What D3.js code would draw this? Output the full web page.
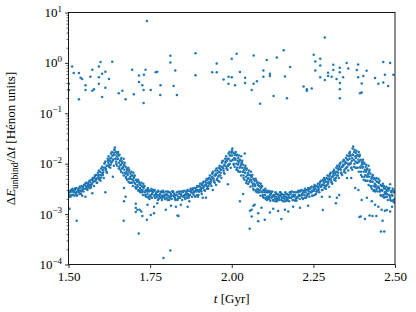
<!DOCTYPE html>
<html>
<head>
<meta charset="utf-8">
<script src="https://cdn.jsdelivr.net/npm/d3@7"></script>
<style>
  body { margin: 0; background: #fff; }
  svg { display: block; }
  text { font-family: "Liberation Serif", "DejaVu Serif", serif; fill: #000; }
</style>
</head>
<body>
<script>
// ---- data: t [Gyr], dE/dt [Henon units] ----
var xTicks = [1.50, 1.75, 2.00, 2.25, 2.50];
var yDecades = [-4, -3, -2, -1, 0, 1];

// the dense oscillating band
var bandPoints = [
[1.500,2.9e-3],[1.502,2.4e-3],[1.504,2.7e-3],[1.506,2.2e-3],[1.508,3.0e-3],
[1.510,2.8e-3],[1.512,3.2e-3],[1.514,2.4e-3],[1.516,2.9e-3],[1.518,2.3e-3],
[1.520,3.0e-3],[1.522,2.5e-3],[1.524,3.3e-3],[1.526,2.3e-3],[1.528,2.8e-3],
[1.530,3.2e-3],[1.532,2.7e-3],[1.534,3.5e-3],[1.536,2.9e-3],[1.538,2.5e-3],
[1.540,3.6e-3],[1.542,3.0e-3],[1.544,3.3e-3],[1.546,2.8e-3],[1.548,3.8e-3],
[1.550,3.8e-3],[1.552,3.2e-3],[1.554,4.2e-3],[1.556,3.5e-3],[1.558,3.0e-3],
[1.560,4.2e-3],[1.562,3.5e-3],[1.564,4.6e-3],[1.566,3.8e-3],[1.568,3.3e-3],
[1.570,4.8e-3],[1.572,4.0e-3],[1.574,5.2e-3],[1.576,4.4e-3],[1.578,3.6e-3],
[1.580,5.5e-3],[1.582,4.6e-3],[1.584,6.0e-3],[1.586,5.0e-3],[1.588,4.2e-3],
[1.590,6.6e-3],[1.592,5.5e-3],[1.593,7.3e-3],[1.595,5.0e-3],[1.597,6.0e-3],[1.598,4.6e-3],
[1.600,8.0e-3],[1.602,6.6e-3],[1.603,8.7e-3],[1.605,6.0e-3],[1.607,7.3e-3],[1.608,5.2e-3],
[1.610,1.0e-2],[1.612,8.3e-3],[1.613,1.1e-2],[1.615,7.6e-3],[1.617,9.1e-3],[1.618,6.6e-3],
[1.620,1.25e-2],[1.622,1.05e-2],[1.623,1.4e-2],[1.625,9.5e-3],[1.627,1.15e-2],[1.628,8.3e-3],
[1.630,1.6e-2],[1.631,1.3e-2],[1.633,1.7e-2],[1.634,1.1e-2],[1.636,1.45e-2],[1.637,1.2e-2],[1.639,9.1e-3],
[1.640,1.9e-2],[1.641,1.5e-2],[1.642,2.1e-2],[1.644,1.25e-2],[1.645,1.7e-2],[1.646,1.1e-2],[1.648,1.4e-2],[1.649,9.1e-3],
[1.650,1.6e-2],[1.651,1.25e-2],[1.652,1.7e-2],[1.654,1.05e-2],[1.655,1.45e-2],[1.656,8.7e-3],[1.658,1.15e-2],[1.659,7.6e-3],
[1.660,1.2e-2],[1.661,9.5e-3],[1.662,1.3e-2],[1.664,8.0e-3],[1.665,1.1e-2],[1.666,6.6e-3],[1.668,8.7e-3],[1.669,5.8e-3],
[1.670,9.5e-3],[1.671,7.6e-3],[1.672,1.05e-2],[1.674,6.3e-3],[1.675,8.7e-3],[1.676,5.5e-3],[1.678,6.9e-3],[1.679,4.8e-3],
[1.680,7.6e-3],[1.681,6.0e-3],[1.683,8.3e-3],[1.684,5.0e-3],[1.686,6.9e-3],[1.687,4.2e-3],[1.689,5.5e-3],
[1.690,6.3e-3],[1.691,5.0e-3],[1.693,6.9e-3],[1.694,4.2e-3],[1.696,5.8e-3],[1.697,3.6e-3],[1.699,4.6e-3],
[1.700,5.2e-3],[1.702,4.2e-3],[1.703,5.8e-3],[1.705,3.5e-3],[1.707,4.8e-3],[1.708,3.2e-3],
[1.710,4.4e-3],[1.712,3.5e-3],[1.713,4.8e-3],[1.715,3.0e-3],[1.717,4.0e-3],[1.718,2.8e-3],
[1.720,3.8e-3],[1.722,3.0e-3],[1.723,4.2e-3],[1.725,2.7e-3],[1.727,3.5e-3],[1.728,2.4e-3],
[1.730,3.3e-3],[1.732,2.8e-3],[1.733,3.6e-3],[1.735,2.4e-3],[1.737,3.0e-3],[1.738,2.2e-3],
[1.740,3.0e-3],[1.742,2.5e-3],[1.743,3.3e-3],[1.745,2.2e-3],[1.747,2.8e-3],[1.748,2.0e-3],
[1.750,2.9e-3],[1.752,2.4e-3],[1.754,3.2e-3],[1.756,2.1e-3],[1.758,2.7e-3],
[1.760,2.8e-3],[1.762,2.3e-3],[1.764,3.0e-3],[1.766,2.1e-3],[1.768,2.5e-3],
[1.770,2.7e-3],[1.772,2.2e-3],[1.774,2.9e-3],[1.776,2.0e-3],[1.778,2.4e-3],
[1.780,2.5e-3],[1.782,2.1e-3],[1.784,2.8e-3],[1.786,1.9e-3],[1.788,2.3e-3],
[1.790,2.7e-3],[1.792,2.2e-3],[1.794,2.4e-3],[1.796,2.0e-3],[1.798,2.8e-3],
[1.800,2.5e-3],[1.802,2.1e-3],[1.804,2.8e-3],[1.806,2.3e-3],[1.808,1.9e-3],
[1.810,2.7e-3],[1.812,2.2e-3],[1.814,2.4e-3],[1.816,2.0e-3],[1.818,2.8e-3],
[1.820,2.8e-3],[1.822,2.3e-3],[1.824,2.5e-3],[1.826,2.1e-3],[1.828,1.9e-3],
[1.830,2.4e-3],[1.832,2.7e-3],[1.834,2.0e-3],[1.836,2.2e-3],[1.838,2.8e-3],
[1.840,2.5e-3],[1.842,2.1e-3],[1.844,2.8e-3],[1.846,2.3e-3],[1.848,1.9e-3],
[1.850,2.7e-3],[1.852,2.2e-3],[1.854,2.9e-3],[1.856,2.4e-3],[1.858,2.0e-3],
[1.860,2.8e-3],[1.862,2.3e-3],[1.864,3.0e-3],[1.866,2.5e-3],[1.868,2.1e-3],
[1.870,2.9e-3],[1.872,2.4e-3],[1.874,3.2e-3],[1.876,2.7e-3],[1.878,2.2e-3],
[1.880,3.0e-3],[1.882,2.5e-3],[1.884,3.3e-3],[1.886,2.8e-3],[1.888,2.2e-3],
[1.890,3.3e-3],[1.892,2.8e-3],[1.894,3.6e-3],[1.896,3.0e-3],[1.898,2.4e-3],
[1.900,3.6e-3],[1.902,3.0e-3],[1.903,4.0e-3],[1.905,3.3e-3],[1.907,2.8e-3],[1.908,2.5e-3],
[1.910,4.0e-3],[1.912,3.3e-3],[1.914,4.4e-3],[1.916,3.6e-3],[1.918,2.9e-3],
[1.920,4.6e-3],[1.922,3.8e-3],[1.923,5.0e-3],[1.925,3.5e-3],[1.927,4.2e-3],[1.928,3.2e-3],
[1.930,5.2e-3],[1.932,4.4e-3],[1.933,5.8e-3],[1.935,4.0e-3],[1.937,4.8e-3],[1.938,3.6e-3],
[1.940,6.3e-3],[1.942,5.2e-3],[1.943,6.9e-3],[1.945,4.6e-3],[1.947,5.8e-3],[1.948,4.2e-3],
[1.950,7.3e-3],[1.952,6.0e-3],[1.953,8.0e-3],[1.955,5.0e-3],[1.957,6.6e-3],[1.958,4.6e-3],
[1.960,8.3e-3],[1.962,6.9e-3],[1.963,9.1e-3],[1.965,5.8e-3],[1.967,7.6e-3],[1.968,5.2e-3],
[1.970,1.05e-2],[1.972,8.7e-3],[1.973,1.15e-2],[1.975,7.3e-3],[1.977,9.5e-3],[1.978,6.3e-3],
[1.980,1.25e-2],[1.981,1.05e-2],[1.983,1.4e-2],[1.984,8.7e-3],[1.986,1.15e-2],[1.987,7.6e-3],[1.989,9.5e-3],
[1.990,1.6e-2],[1.991,1.25e-2],[1.993,1.7e-2],[1.994,1.0e-2],[1.996,1.45e-2],[1.997,8.3e-3],[1.999,1.15e-2],
[2.000,1.8e-2],[2.001,1.45e-2],[2.002,2.0e-2],[2.004,1.2e-2],[2.005,1.65e-2],[2.006,1.0e-2],[2.008,1.3e-2],[2.009,8.7e-3],
[2.010,1.6e-2],[2.011,1.25e-2],[2.012,1.7e-2],[2.014,1.0e-2],[2.015,1.45e-2],[2.016,8.3e-3],[2.018,1.15e-2],[2.019,7.3e-3],
[2.020,1.3e-2],[2.021,1.05e-2],[2.022,1.45e-2],[2.024,8.3e-3],[2.025,1.2e-2],[2.026,6.9e-3],[2.028,9.5e-3],[2.029,5.8e-3],
[2.030,1.05e-2],[2.031,8.3e-3],[2.032,1.15e-2],[2.034,6.9e-3],[2.035,9.5e-3],[2.036,5.8e-3],[2.038,7.6e-3],[2.039,4.8e-3],
[2.040,8.3e-3],[2.041,6.6e-3],[2.042,9.1e-3],[2.044,5.5e-3],[2.045,7.6e-3],[2.046,4.6e-3],[2.048,6.0e-3],[2.049,4.0e-3],
[2.050,6.6e-3],[2.051,5.2e-3],[2.053,7.3e-3],[2.054,4.4e-3],[2.056,6.0e-3],[2.057,3.5e-3],[2.059,4.8e-3],
[2.060,5.5e-3],[2.061,4.4e-3],[2.063,6.0e-3],[2.064,3.6e-3],[2.066,5.0e-3],[2.067,3.0e-3],[2.069,4.0e-3],
[2.070,4.6e-3],[2.072,3.6e-3],[2.073,5.0e-3],[2.075,3.0e-3],[2.077,4.2e-3],[2.078,2.7e-3],
[2.080,3.8e-3],[2.082,3.0e-3],[2.083,4.2e-3],[2.085,2.7e-3],[2.087,3.5e-3],[2.088,2.3e-3],
[2.090,3.3e-3],[2.092,2.8e-3],[2.093,3.6e-3],[2.095,2.4e-3],[2.097,3.0e-3],[2.098,2.1e-3],
[2.100,2.9e-3],[2.102,2.4e-3],[2.103,3.2e-3],[2.105,2.1e-3],[2.107,2.7e-3],[2.108,1.9e-3],
[2.110,2.7e-3],[2.112,2.2e-3],[2.113,2.9e-3],[2.115,2.0e-3],[2.117,2.4e-3],[2.118,1.85e-3],
[2.120,2.5e-3],[2.122,2.1e-3],[2.124,2.8e-3],[2.126,2.3e-3],[2.128,1.85e-3],
[2.130,2.4e-3],[2.132,2.0e-3],[2.134,2.7e-3],[2.136,2.2e-3],[2.138,1.8e-3],
[2.140,2.5e-3],[2.142,2.1e-3],[2.144,2.3e-3],[2.146,1.9e-3],[2.148,2.7e-3],
[2.150,2.3e-3],[2.152,1.9e-3],[2.154,2.5e-3],[2.156,2.1e-3],[2.158,1.8e-3],
[2.160,2.4e-3],[2.162,2.0e-3],[2.164,2.7e-3],[2.166,2.2e-3],[2.168,1.85e-3],
[2.170,2.5e-3],[2.172,2.1e-3],[2.174,2.3e-3],[2.176,1.8e-3],[2.178,2.7e-3],
[2.180,2.5e-3],[2.182,2.1e-3],[2.184,2.8e-3],[2.186,2.3e-3],[2.188,1.9e-3],
[2.190,2.7e-3],[2.192,2.2e-3],[2.194,2.4e-3],[2.196,2.0e-3],[2.198,1.85e-3],
[2.200,2.7e-3],[2.202,2.2e-3],[2.204,2.9e-3],[2.206,2.4e-3],[2.208,2.0e-3],
[2.210,2.8e-3],[2.212,2.3e-3],[2.214,3.0e-3],[2.216,2.5e-3],[2.218,2.0e-3],
[2.220,2.9e-3],[2.222,2.4e-3],[2.224,3.2e-3],[2.226,2.7e-3],[2.228,2.1e-3],
[2.230,3.0e-3],[2.232,2.5e-3],[2.234,3.3e-3],[2.236,2.8e-3],[2.238,2.2e-3],
[2.240,3.2e-3],[2.242,2.7e-3],[2.244,3.5e-3],[2.246,2.9e-3],[2.248,2.3e-3],
[2.250,3.5e-3],[2.252,2.9e-3],[2.254,3.8e-3],[2.256,3.2e-3],[2.258,2.5e-3],
[2.260,3.6e-3],[2.262,3.0e-3],[2.264,4.0e-3],[2.266,3.3e-3],[2.268,2.7e-3],
[2.270,4.2e-3],[2.272,3.5e-3],[2.274,4.6e-3],[2.276,3.8e-3],[2.278,3.0e-3],
[2.280,4.8e-3],[2.282,4.0e-3],[2.283,5.2e-3],[2.285,3.6e-3],[2.287,4.4e-3],[2.288,3.2e-3],
[2.290,5.2e-3],[2.292,4.4e-3],[2.293,5.8e-3],[2.295,4.0e-3],[2.297,4.8e-3],[2.298,3.5e-3],
[2.300,6.0e-3],[2.302,5.0e-3],[2.303,6.6e-3],[2.305,4.4e-3],[2.307,5.5e-3],[2.308,4.0e-3],
[2.310,6.9e-3],[2.312,5.8e-3],[2.313,7.6e-3],[2.315,5.0e-3],[2.317,6.3e-3],[2.318,4.6e-3],
[2.320,8.3e-3],[2.322,6.9e-3],[2.323,9.1e-3],[2.325,5.8e-3],[2.327,7.6e-3],[2.328,5.2e-3],
[2.330,9.5e-3],[2.332,8.0e-3],[2.333,1.05e-2],[2.335,6.6e-3],[2.337,8.7e-3],[2.338,6.0e-3],
[2.340,1.1e-2],[2.342,9.1e-3],[2.343,1.2e-2],[2.345,7.6e-3],[2.347,1.0e-2],[2.348,6.6e-3],
[2.350,1.3e-2],[2.351,1.05e-2],[2.353,1.45e-2],[2.354,8.7e-3],[2.356,1.2e-2],[2.357,7.3e-3],[2.359,9.5e-3],
[2.360,1.6e-2],[2.361,1.25e-2],[2.362,1.7e-2],[2.364,1.0e-2],[2.365,1.45e-2],[2.366,8.3e-3],[2.368,1.15e-2],[2.369,7.6e-3],
[2.370,2.0e-2],[2.371,1.5e-2],[2.372,2.2e-2],[2.374,1.2e-2],[2.375,1.7e-2],[2.376,1.0e-2],[2.378,1.4e-2],[2.379,8.3e-3],
[2.380,1.65e-2],[2.381,1.3e-2],[2.382,1.8e-2],[2.384,1.05e-2],[2.385,1.5e-2],[2.386,8.3e-3],[2.388,1.2e-2],[2.389,6.9e-3],
[2.390,1.4e-2],[2.391,1.1e-2],[2.392,1.5e-2],[2.394,8.7e-3],[2.395,1.2e-2],[2.396,6.9e-3],[2.398,9.5e-3],[2.399,5.5e-3],
[2.400,1.1e-2],[2.401,8.7e-3],[2.402,1.2e-2],[2.404,6.9e-3],[2.405,1.0e-2],[2.406,5.5e-3],[2.408,7.6e-3],[2.409,4.6e-3],
[2.410,8.7e-3],[2.411,6.9e-3],[2.412,9.5e-3],[2.414,5.5e-3],[2.415,8.0e-3],[2.416,4.6e-3],[2.418,6.3e-3],[2.419,3.8e-3],
[2.420,6.9e-3],[2.421,5.5e-3],[2.422,7.6e-3],[2.424,4.4e-3],[2.425,6.3e-3],[2.426,3.6e-3],[2.428,5.0e-3],[2.429,3.2e-3],
[2.430,5.5e-3],[2.431,4.4e-3],[2.432,6.0e-3],[2.434,3.6e-3],[2.435,5.0e-3],[2.436,3.0e-3],[2.438,4.0e-3],[2.439,2.8e-3],
[2.440,4.8e-3],[2.441,3.8e-3],[2.443,5.2e-3],[2.444,3.2e-3],[2.446,4.4e-3],[2.447,2.8e-3],[2.449,3.5e-3],
[2.450,4.2e-3],[2.451,3.3e-3],[2.453,4.6e-3],[2.454,2.8e-3],[2.456,3.8e-3],[2.457,2.3e-3],[2.459,3.0e-3],
[2.460,3.6e-3],[2.461,2.9e-3],[2.463,4.0e-3],[2.464,2.4e-3],[2.466,3.3e-3],[2.467,2.1e-3],[2.469,2.7e-3],
[2.470,3.2e-3],[2.472,2.7e-3],[2.473,3.5e-3],[2.475,2.2e-3],[2.477,2.9e-3],[2.478,1.9e-3],
[2.480,3.0e-3],[2.482,2.4e-3],[2.483,3.3e-3],[2.485,2.1e-3],[2.487,2.8e-3],[2.488,1.85e-3],
[2.490,2.9e-3],[2.492,2.3e-3],[2.493,3.2e-3],[2.495,1.9e-3],[2.497,2.7e-3],[2.498,1.7e-3]
];

// more band points, read in between the ones above
var bandFill = [
[1.501,2.7e-3],[1.504,2.2e-3],[1.506,2.9e-3],[1.509,2.4e-3],
[1.511,2.4e-3],[1.514,2.9e-3],[1.516,2.7e-3],[1.519,3.2e-3],
[1.521,3.2e-3],[1.524,2.7e-3],[1.526,2.4e-3],[1.529,2.9e-3],
[1.531,3.0e-3],[1.534,2.5e-3],[1.536,3.3e-3],[1.539,2.8e-3],
[1.541,2.9e-3],[1.544,3.5e-3],[1.546,3.2e-3],[1.549,3.8e-3],
[1.551,4.0e-3],[1.554,3.5e-3],[1.556,3.2e-3],[1.559,3.8e-3],
[1.561,4.0e-3],[1.564,3.3e-3],[1.566,4.4e-3],[1.569,3.6e-3],
[1.571,4.0e-3],[1.574,4.8e-3],[1.576,4.4e-3],[1.579,5.2e-3],
[1.581,5.8e-3],[1.584,4.8e-3],[1.586,4.2e-3],[1.589,5.2e-3],
[1.591,6.0e-3],[1.594,4.8e-3],[1.596,6.9e-3],[1.599,5.2e-3],
[1.601,5.8e-3],[1.604,7.6e-3],[1.606,6.6e-3],[1.609,8.3e-3],
[1.611,1.05e-2],[1.614,8.0e-3],[1.616,6.9e-3],[1.619,9.1e-3],
[1.621,1.15e-2],[1.624,8.7e-3],[1.626,1.25e-2],[1.629,9.5e-3],
[1.631,1.05e-2],[1.634,1.45e-2],[1.636,1.2e-2],[1.639,1.65e-2],
[1.641,1.9e-2],[1.644,1.25e-2],[1.646,1.0e-2],[1.649,1.6e-2],
[1.651,1.25e-2],[1.654,8.0e-3],[1.656,1.5e-2],[1.659,9.5e-3],
[1.661,6.9e-3],[1.664,1.05e-2],[1.666,8.3e-3],[1.669,1.25e-2],
[1.671,9.5e-3],[1.674,6.6e-3],[1.676,5.2e-3],[1.679,8.0e-3],
[1.681,6.3e-3],[1.684,4.4e-3],[1.686,7.6e-3],[1.689,5.0e-3],
[1.691,4.2e-3],[1.694,5.8e-3],[1.696,4.8e-3],[1.699,6.6e-3],
[1.701,5.5e-3],[1.704,4.0e-3],[1.706,3.3e-3],[1.709,4.6e-3],
[1.711,3.8e-3],[1.714,2.9e-3],[1.716,4.4e-3],[1.719,3.3e-3],
[1.721,2.7e-3],[1.724,3.6e-3],[1.726,3.0e-3],[1.729,4.0e-3],
[1.731,3.5e-3],[1.734,2.7e-3],[1.736,2.3e-3],[1.739,3.0e-3],
[1.741,2.8e-3],[1.744,2.1e-3],[1.746,3.0e-3],[1.749,2.3e-3],
[1.751,2.2e-3],[1.754,2.9e-3],[1.756,2.5e-3],[1.759,3.0e-3],
[1.761,2.9e-3],[1.764,2.4e-3],[1.766,2.1e-3],[1.769,2.7e-3],
[1.771,2.4e-3],[1.774,1.9e-3],[1.776,2.8e-3],[1.779,2.2e-3],
[1.781,2.1e-3],[1.784,2.7e-3],[1.786,2.3e-3],[1.789,2.9e-3],
[1.791,2.7e-3],[1.794,2.2e-3],[1.796,2.0e-3],[1.799,2.4e-3],
[1.801,2.4e-3],[1.804,1.9e-3],[1.806,2.7e-3],[1.809,2.1e-3],
[1.811,2.1e-3],[1.814,2.5e-3],[1.816,2.3e-3],[1.819,2.8e-3],
[1.821,2.7e-3],[1.824,2.2e-3],[1.826,2.0e-3],[1.829,2.4e-3],
[1.831,2.4e-3],[1.834,1.9e-3],[1.836,2.7e-3],[1.839,2.1e-3],
[1.841,2.1e-3],[1.844,2.5e-3],[1.846,2.3e-3],[1.849,2.8e-3],
[1.851,2.8e-3],[1.854,2.3e-3],[1.856,2.1e-3],[1.859,2.5e-3],
[1.861,2.7e-3],[1.864,2.1e-3],[1.866,2.9e-3],[1.869,2.3e-3],
[1.871,2.4e-3],[1.874,2.9e-3],[1.876,2.7e-3],[1.879,3.2e-3],
[1.881,3.2e-3],[1.884,2.7e-3],[1.886,2.3e-3],[1.889,2.9e-3],
[1.891,3.0e-3],[1.894,2.4e-3],[1.896,3.5e-3],[1.899,2.8e-3],
[1.901,2.8e-3],[1.904,3.5e-3],[1.906,3.0e-3],[1.909,3.8e-3],
[1.911,4.2e-3],[1.914,3.5e-3],[1.916,3.0e-3],[1.919,3.8e-3],
[1.921,4.2e-3],[1.924,3.2e-3],[1.926,4.8e-3],[1.929,3.6e-3],
[1.931,4.0e-3],[1.934,5.0e-3],[1.936,4.4e-3],[1.939,5.5e-3],
[1.941,6.6e-3],[1.944,5.0e-3],[1.946,4.4e-3],[1.949,5.8e-3],
[1.951,6.3e-3],[1.954,4.8e-3],[1.956,7.3e-3],[1.959,5.5e-3],
[1.961,5.8e-3],[1.964,8.0e-3],[1.966,6.6e-3],[1.969,8.7e-3],
[1.971,1.1e-2],[1.974,8.0e-3],[1.976,6.6e-3],[1.979,9.1e-3],
[1.981,1.1e-2],[1.984,8.0e-3],[1.986,1.25e-2],[1.989,9.1e-3],
[1.991,9.5e-3],[1.994,1.45e-2],[1.996,1.15e-2],[1.999,1.65e-2],
[2.001,1.8e-2],[2.004,1.2e-2],[2.006,9.5e-3],[2.009,1.5e-2],
[2.011,1.2e-2],[2.014,7.6e-3],[2.016,1.5e-2],[2.019,9.5e-3],
[2.021,6.9e-3],[2.024,1.15e-2],[2.026,8.7e-3],[2.029,1.4e-2],
[2.031,1.05e-2],[2.034,6.9e-3],[2.036,5.2e-3],[2.039,8.3e-3],
[2.041,6.6e-3],[2.044,4.2e-3],[2.046,8.0e-3],[2.049,5.0e-3],
[2.051,4.0e-3],[2.054,6.0e-3],[2.056,4.8e-3],[2.059,6.9e-3],
[2.061,5.5e-3],[2.064,4.0e-3],[2.066,3.2e-3],[2.069,4.8e-3],
[2.071,3.8e-3],[2.074,2.8e-3],[2.076,4.6e-3],[2.079,3.2e-3],
[2.081,2.7e-3],[2.084,3.6e-3],[2.086,3.0e-3],[2.089,4.0e-3],
[2.091,3.5e-3],[2.094,2.7e-3],[2.096,2.2e-3],[2.099,3.0e-3],
[2.101,2.7e-3],[2.104,2.0e-3],[2.106,2.9e-3],[2.109,2.2e-3],
[2.111,2.0e-3],[2.114,2.7e-3],[2.116,2.2e-3],[2.119,2.8e-3],
[2.121,2.7e-3],[2.124,2.2e-3],[2.126,1.9e-3],[2.129,2.4e-3],
[2.131,2.2e-3],[2.134,1.8e-3],[2.136,2.5e-3],[2.139,2.0e-3],
[2.141,1.9e-3],[2.144,2.4e-3],[2.146,2.1e-3],[2.149,2.7e-3],
[2.151,2.5e-3],[2.154,2.1e-3],[2.156,1.85e-3],[2.159,2.3e-3],
[2.161,2.2e-3],[2.164,1.8e-3],[2.166,2.5e-3],[2.169,2.0e-3],
[2.171,1.9e-3],[2.174,2.4e-3],[2.176,2.1e-3],[2.179,2.7e-3],
[2.181,2.7e-3],[2.184,2.2e-3],[2.186,1.9e-3],[2.189,2.4e-3],
[2.191,2.3e-3],[2.194,1.85e-3],[2.196,2.7e-3],[2.199,2.1e-3],
[2.201,2.1e-3],[2.204,2.7e-3],[2.206,2.3e-3],[2.209,2.9e-3],
[2.211,2.9e-3],[2.214,2.4e-3],[2.216,2.1e-3],[2.219,2.7e-3],
[2.221,2.7e-3],[2.224,2.1e-3],[2.226,3.0e-3],[2.229,2.3e-3],
[2.231,2.3e-3],[2.234,3.0e-3],[2.236,2.5e-3],[2.239,3.2e-3],
[2.241,3.3e-3],[2.244,2.7e-3],[2.246,2.3e-3],[2.249,2.9e-3],
[2.251,3.2e-3],[2.254,2.4e-3],[2.256,3.5e-3],[2.259,2.8e-3],
[2.261,2.8e-3],[2.264,3.5e-3],[2.266,3.0e-3],[2.269,3.8e-3],
[2.271,4.4e-3],[2.274,3.5e-3],[2.276,3.0e-3],[2.279,3.8e-3],
[2.281,4.4e-3],[2.284,3.3e-3],[2.286,4.8e-3],[2.289,3.6e-3],
[2.291,3.8e-3],[2.294,5.0e-3],[2.296,4.4e-3],[2.299,5.5e-3],
[2.301,6.3e-3],[2.304,4.8e-3],[2.306,4.2e-3],[2.309,5.5e-3],
[2.311,6.3e-3],[2.314,4.8e-3],[2.316,6.9e-3],[2.319,5.2e-3],
[2.321,5.8e-3],[2.324,8.0e-3],[2.326,6.6e-3],[2.329,8.7e-3],
[2.331,1.0e-2],[2.334,7.6e-3],[2.336,6.3e-3],[2.339,8.7e-3],
[2.341,9.5e-3],[2.344,6.9e-3],[2.346,1.1e-2],[2.349,8.0e-3],
[2.351,8.3e-3],[2.354,1.2e-2],[2.356,1.0e-2],[2.359,1.4e-2],
[2.361,1.6e-2],[2.364,1.05e-2],[2.366,8.3e-3],[2.369,1.3e-2],
[2.371,1.5e-2],[2.374,8.7e-3],[2.376,1.9e-2],[2.379,1.1e-2],
[2.381,8.3e-3],[2.384,1.45e-2],[2.386,1.05e-2],[2.389,1.7e-2],
[2.391,1.4e-2],[2.394,8.3e-3],[2.396,6.0e-3],[2.399,1.05e-2],
[2.401,8.3e-3],[2.404,4.8e-3],[2.406,1.05e-2],[2.409,6.0e-3],
[2.411,4.6e-3],[2.414,7.6e-3],[2.416,5.8e-3],[2.419,9.1e-3],
[2.421,6.9e-3],[2.424,4.6e-3],[2.426,3.5e-3],[2.429,5.5e-3],
[2.431,4.4e-3],[2.434,2.9e-3],[2.436,5.2e-3],[2.439,3.5e-3],
[2.441,2.9e-3],[2.444,4.4e-3],[2.446,3.5e-3],[2.449,5.0e-3],
[2.451,4.2e-3],[2.454,3.0e-3],[2.456,2.4e-3],[2.459,3.6e-3],
[2.461,3.0e-3],[2.464,2.2e-3],[2.466,3.6e-3],[2.469,2.5e-3],
[2.471,2.2e-3],[2.474,3.0e-3],[2.476,2.5e-3],[2.479,3.3e-3],
[2.481,3.2e-3],[2.484,2.3e-3],[2.486,1.9e-3],[2.489,2.7e-3],
[2.491,2.4e-3],[2.494,1.8e-3],[2.496,2.9e-3],[2.499,2.0e-3]
];

// sparse points scattered below / around the band
var looseBand = [
[1.503,1.27e-3],[1.525,7.4e-4],[1.613,2.7e-3],[1.636,5.5e-3],[1.669,7.4e-4],[1.715,4.1e-4],
[1.740,7.7e-4],[1.791,1.34e-4],[1.812,1.9e-4],[1.837,9.2e-4],[1.718,1.22e-3],[1.723,1.13e-3],
[1.670,3.3e-3],[1.675,2.2e-3],[1.670,1.8e-3],[1.706,1.6e-3],[1.706,1.33e-3],[1.706,1.1e-3],
[1.711,1.22e-3],[1.726,9.2e-4],[1.742,1.53e-3],[1.552,2.2e-3],[1.542,2.3e-3],[1.573,2.6e-3],
[1.762,1.4e-3],[1.772,1.65e-3],[1.788,2.1e-3],[1.752,9.6e-4],[1.762,1.04e-3],[1.798,1.22e-3],
[1.814,1.46e-3],[1.829,1.4e-3],[1.844,1.53e-3],[1.834,9.4e-4],[1.865,1.4e-3],[1.870,1.8e-3],
[1.896,2.2e-3],[1.911,2.1e-3],[1.921,2.1e-3],[1.942,3.0e-3],[1.952,3.8e-3],[1.962,4.4e-3],
[1.988,3.9e-3],
[2.025,1.8e-3],[2.035,2.5e-3],[2.040,1.6e-2],[2.055,5.1e-4],[2.061,1.22e-3],[2.066,1.46e-3],
[2.056,1.17e-3],[2.061,9.0e-4],[2.081,1.04e-3],[2.081,7.2e-4],[2.101,7.7e-4],[2.091,1.33e-3],
[2.117,1.07e-3],[2.127,1.27e-3],[2.142,1.15e-3],[2.163,1.22e-3],[2.152,8.0e-4],[2.173,1.13e-3],
[2.188,1.4e-3],[2.209,1.33e-3],[2.234,1.47e-3],[2.070,1.53e-3],
[2.279,1.2e-3],[2.391,8.8e-4],[2.408,8.0e-4],[2.431,9.2e-4],[2.443,9.2e-4],[2.462,7.4e-4],
[2.457,4.5e-4],[2.467,4.5e-4],[2.485,3.9e-3],[2.475,1.2e-3],[2.378,3.3e-3],[2.388,3.0e-3],
[2.398,1.9e-3],[2.414,2.1e-3],[2.429,1.8e-3],[2.439,1.53e-3],[2.449,1.4e-3],[2.459,1.22e-3],
[2.491,1.4e-3],[2.485,1.13e-3],[2.469,1.17e-3],[2.395,9.0e-4],[2.422,9.4e-4],
[2.319,1.65e-3],[2.329,2.4e-3],[2.322,2.1e-3],[2.300,2.2e-3],[2.276,2.2e-3],[2.353,5.2e-3],[2.366,5.2e-3]
];

// the upper cloud around 1
var upperPoints = [
[1.501,0.385],[1.501,0.29],[1.511,0.85],[1.516,0.63],[1.532,0.63],[1.537,0.51],[1.542,0.48],
[1.552,0.36],[1.552,0.29],[1.532,0.19],[1.567,0.53],[1.573,0.73],[1.573,0.28],[1.578,0.30],
[1.593,0.85],[1.598,1.04],[1.593,0.52],[1.603,0.61],[1.613,0.67],[1.593,0.385],[1.603,0.21],
[1.613,0.32],[1.624,0.48],[1.634,1.05],[1.654,0.25],[1.665,0.28],[1.675,0.19],[1.695,0.73],
[1.700,0.24],[1.716,0.56],[1.716,0.42],[1.726,0.36],[1.731,0.58],[1.736,0.73],[1.730,0.29],
[1.730,0.16],[1.740,6.8],[1.752,0.29],[1.767,0.65],[1.772,0.67],[1.782,0.36],[1.781,0.23],
[1.812,1.38],[1.812,1.02],[1.827,0.71],[1.822,0.35],[1.832,0.23],[1.889,1.56],[1.889,0.57],
[1.940,0.65],[1.954,0.97],[1.954,0.65],[1.975,0.47],[1.990,0.53],[1.990,0.385],[2.000,1.21],
[2.000,0.52],[2.010,0.36],[2.015,1.52],[2.025,0.66],[2.041,0.51],[2.041,0.40],[2.061,0.29],
[2.067,1.40],[2.067,0.385],[2.077,0.43],[2.087,0.154],[2.097,0.71],[2.097,0.53],[2.107,1.14],
[2.117,0.61],[2.117,0.55],[2.128,0.22],[2.138,1.28],[2.159,1.79],[2.163,0.54],[2.169,0.20],
[2.179,0.83],[2.220,0.34],[2.230,0.30],[2.230,0.28],[2.245,0.31],[2.251,1.45],[2.256,1.07],
[2.256,0.71],[2.271,1.21],[2.271,0.89],[2.271,0.52],[2.285,3.19],[2.285,0.46],[2.295,0.64],
[2.295,0.55],[2.306,0.53],[2.311,0.92],[2.311,0.72],[2.321,0.48],[2.331,0.80],[2.331,0.65],
[2.331,0.40],[2.331,0.30],[2.331,0.20],[2.341,0.52],[2.352,0.99],[2.357,0.77],[2.383,0.72],
[2.387,0.93],[2.387,0.52],[2.398,0.39],[2.393,0.25],[2.398,0.26],[2.403,0.55],[2.413,0.70],
[2.439,0.50],[2.449,0.385],[2.464,1.04],[2.464,0.41],[2.469,0.58],[2.479,0.35],[2.485,1.0],
[2.495,0.58]
];

var width = 416, height = 312;
var plotLeft = 68.5, plotRight = 395, plotTop = 12.5, plotBottom = 264.5;

var svg = d3.select("body").append("svg")
  .attr("width", width)
  .attr("height", height);

var x = d3.scaleLinear().domain([1.5, 2.5]).range([plotLeft, plotRight]);
var y = d3.scaleLog().domain([1e-4, 1e1]).range([plotBottom, plotTop]);

svg.append("clipPath").attr("id", "plotclip")
  .append("rect")
  .attr("x", plotLeft).attr("y", plotTop)
  .attr("width", plotRight - plotLeft).attr("height", plotBottom - plotTop);

var allPoints = upperPoints.concat(looseBand, bandPoints, bandFill);

svg.append("g")
  .attr("clip-path", "url(#plotclip)")
  .selectAll("circle")
  .data(allPoints)
  .enter()
  .append("circle")
  .attr("cx", d => x(d[0]))
  .attr("cy", d => y(d[1]))
  .attr("r", 1.25)
  .style("fill", "#1f77b4");

// x axis
var xAxis = svg.append("g")
  .attr("transform", "translate(0," + plotBottom + ")")
  .call(d3.axisBottom(x).tickValues(xTicks).tickSize(3.5).tickPadding(3.5).tickFormat(d3.format(".2f")));
xAxis.select(".domain").remove();
xAxis.selectAll("line").attr("stroke", "#000").attr("stroke-width", 0.8);
xAxis.selectAll("text").style("font-size", "13px").style("font-family", "Liberation Serif, serif");

// y axis minor ticks
var minorTicks = [];
yDecades.forEach(function(k){
  if (k < 1) for (var m = 2; m <= 9; m++) minorTicks.push(m * Math.pow(10, k));
});
var yMinor = svg.append("g")
  .attr("transform", "translate(" + plotLeft + ",0)")
  .call(d3.axisLeft(y).tickValues(minorTicks).tickSize(2).tickFormat(""));
yMinor.select(".domain").remove();
yMinor.selectAll("line").attr("stroke", "#000").attr("stroke-width", 0.6);

// y axis major ticks, labels as 10^k
var yMajor = svg.append("g")
  .attr("transform", "translate(" + plotLeft + ",0)")
  .call(d3.axisLeft(y).tickValues(yDecades.map(k => Math.pow(10, k))).tickSize(3.5).tickFormat(""));
yMajor.select(".domain").remove();
yMajor.selectAll("line").attr("stroke", "#000").attr("stroke-width", 0.8);

var yLabels = svg.append("g");
yDecades.forEach(function(k){
  var t = yLabels.append("text")
    .attr("x", plotLeft - 6.5)
    .attr("y", y(Math.pow(10, k)) + 4.5)
    .attr("text-anchor", "end")
    .style("font-size", "13px");
  t.append("tspan").text("10");
  t.append("tspan").attr("dy", -5.5).style("font-size", "9px")
    .text(k < 0 ? "\u2212" + (-k) : String(k));
});

// frame
svg.append("rect")
  .attr("x", plotLeft).attr("y", plotTop)
  .attr("width", plotRight - plotLeft).attr("height", plotBottom - plotTop)
  .style("fill", "none").style("stroke", "#000").style("stroke-width", 0.9);

// axis titles
var xl = svg.append("text")
  .attr("x", (plotLeft + plotRight) / 2)
  .attr("y", 303)
  .attr("text-anchor", "middle")
  .style("font-size", "13px");
xl.append("tspan").style("font-style", "italic").text("t");
xl.append("tspan").text(" [Gyr]");

var yl = svg.append("text")
  .attr("transform", "translate(15," + ((plotTop + plotBottom) / 2) + ") rotate(-90)")
  .attr("text-anchor", "middle")
  .style("font-size", "13px");
yl.append("tspan").text("\u0394");
yl.append("tspan").style("font-style", "italic").text("E");
yl.append("tspan").attr("dy", 2.5).style("font-size", "9.5px").text("unbind");
yl.append("tspan").attr("dy", -2.5).text("/\u0394");
yl.append("tspan").style("font-style", "italic").text("t");
yl.append("tspan").text(" [H\u00e9non units]");
</script>
</body>
</html>
